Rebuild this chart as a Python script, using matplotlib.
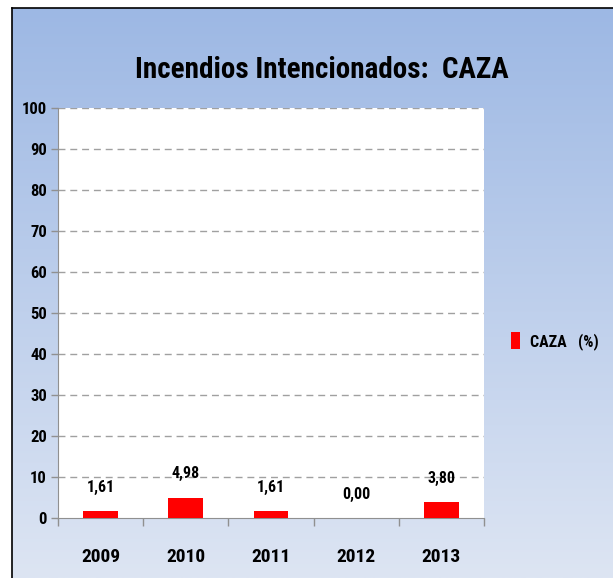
import matplotlib
matplotlib.use("Agg")
import matplotlib.pyplot as plt
from matplotlib import font_manager
from matplotlib.colors import LinearSegmentedColormap
import numpy as np

years = ['2009', '2010', '2011', '2012', '2013']
values = [1.61, 4.98, 1.61, 0.00, 3.80]
value_labels = ['1,61', '4,98', '1,61', '0,00', '3,80']
y_ticks = [0, 10, 20, 30, 40, 50, 60, 70, 80, 90, 100]
title = 'Incendios Intencionados:  CAZA'
series_name = 'CAZA   (%)'

# pick a condensed font if one is there
names = set(f.name for f in font_manager.fontManager.ttflist)
fam = 'DejaVu Sans'
for cand in ['Liberation Sans Narrow', 'Roboto Condensed', 'Open Sans Condensed', 'Liberation Sans']:
    if cand in names:
        fam = cand
        break
plt.rcParams['font.family'] = [fam, 'DejaVu Sans']
plt.rcParams['font.weight'] = 'bold'

fig = plt.figure(figsize=(6.13, 5.78), dpi=100)
fig.patch.set_facecolor('white')

# gradient background of the chart area (dark at top)
bg = fig.add_axes([12 / 613, 0, 1 - 12 / 613, 1 - 8 / 578])
cmap = LinearSegmentedColormap.from_list('bg', ['#9db8e4', '#dde5f3'])
grad = np.linspace(0, 1, 256).reshape(-1, 1)
bg.imshow(grad, aspect='auto', cmap=cmap, extent=[0, 1, 0, 1], origin='upper')
bg.set_xlim(0, 1)
bg.set_ylim(0, 1)
bg.set_xticks([])
bg.set_yticks([])
for s in ['right', 'bottom']:
    bg.spines[s].set_visible(False)
for s in ['left', 'top']:
    bg.spines[s].set_color('black')
    bg.spines[s].set_linewidth(1.2)

ax = fig.add_axes([58 / 613, 1 - 518 / 578, 426 / 613, 410 / 578])
ax.set_facecolor('white')
x = np.arange(len(years))
ax.bar(x, values, width=0.41, color='#ff0000', zorder=3, label=series_name)
ax.set_xlim(-0.5, len(years) - 0.5)
ax.set_ylim(0, 100)
ax.set_yticks(y_ticks)
ax.set_yticklabels([str(t) for t in y_ticks], fontsize=12, fontweight='bold')
for t in y_ticks[1:]:
    ax.axhline(t, color='#a0a0a0', linestyle=(0, (5, 3.5)), linewidth=1, zorder=1)

ax.set_xticks(np.arange(len(years) + 1) - 0.5)
ax.set_xticklabels([])
ax.tick_params(axis='x', length=6, color='#909090', width=1)
ax.tick_params(axis='y', length=5, color='#909090', width=1, pad=3)
for i, yr in enumerate(years):
    ax.text(i, -9.5, yr, ha='center', va='center', fontsize=14, fontweight='bold')
for i, (v, lab) in enumerate(zip(values, value_labels)):
    ax.text(i, v + 4, lab, ha='center', va='bottom', fontsize=11.5, fontweight='bold')

for s in ['top', 'right']:
    ax.spines[s].set_visible(False)
ax.spines['left'].set_color('#909090')
ax.spines['bottom'].set_color('#909090')

fig.text(322 / 613, 1 - 70 / 578, title, ha='center', va='center', fontsize=21, fontweight='bold')

leg = ax.legend(loc='center left', bbox_to_anchor=(497 / 613, 1 - 341 / 578),
                bbox_transform=fig.transFigure, frameon=False, fontsize=11.5,
                handlelength=0.55, handleheight=1.2, handletextpad=0.6)
for t in leg.get_texts():
    t.set_fontweight('bold')

fig.savefig('out.png', dpi=100, facecolor=fig.get_facecolor())
